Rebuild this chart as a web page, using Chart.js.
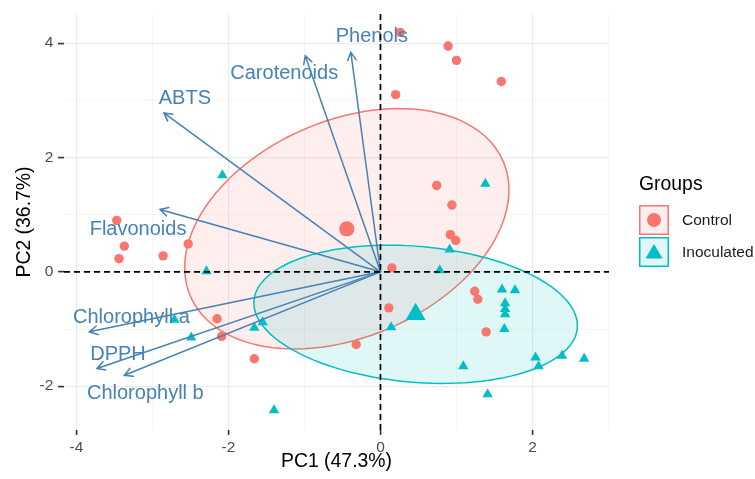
<!DOCTYPE html>
<html>
<head>
<meta charset="utf-8">
<title>PCA biplot</title>
<script src="https://cdn.jsdelivr.net/npm/chart.js@4.4.1/dist/chart.umd.min.js"></script>
<style>
    html, body { margin: 0; padding: 0; background: #ffffff; }
    #biplot { display: block; }
</style>
</head>
<body>
<canvas id="biplot" width="755" height="479"></canvas>
<script>
// Individual scores on PC1 / PC2
const controlPC1 = [-3.47, -3.37, -3.44, -2.86, -2.53, -2.15, -2.09, -1.66, -0.32, 0.11, 0.15, 0.20,
    0.26, 0.74, 0.89, 0.92, 0.94, 0.99, 1.00, 1.24, 1.28, 1.39, 1.59];
const controlPC2 = [0.90, 0.45, 0.23, 0.28, 0.49, -0.82, -1.13, -1.52, -1.27, -0.63, 0.07, 3.10,
    4.19, 1.51, 3.95, 0.65, 1.17, 0.55, 3.70, -0.34, -0.48, -1.05, 3.33];
const inoculatedPC1 = [-2.71, -2.49, -2.29, -2.08, -1.66, -1.55, -1.40, 0.14, 0.78, 0.91, 1.09, 1.38,
    1.41, 1.60, 1.63, 1.64, 1.64, 1.64, 1.77, 2.04, 2.08, 2.39, 2.68];
const inoculatedPC2 = [-0.84, -1.15, 0.01, 1.69, -0.98, -0.88, -2.42, -0.97, 0.03, 0.39, -1.65, 1.54,
    -2.14, -0.31, -1.00, -0.55, -0.65, -0.74, -0.32, -1.50, -1.65, -1.47, -1.52];

// Variable loadings (arrow tips)
const variables = ['Phenols', 'Carotenoids', 'ABTS', 'Flavonoids', 'Chlorophyll a', 'DPPH', 'Chlorophyll b'];
const loadingPC1 = [-0.39, -0.99, -2.85, -2.90, -3.83, -3.73, -3.37];
const loadingPC2 = [3.84, 3.78, 2.78, 1.09, -1.05, -1.69, -1.81];

const groups = ['Control', 'Inoculated'];
const xTickLabels = [-4, -2, 0, 2];
const yTickLabels = [-2, 0, 2, 4];
const axisTitles = ['PC1 (47.3%)', 'PC2 (36.7%)'];
const legendTitle = 'Groups';
const ellipseLevel = 0.5;

// styling
const FONT = '"Liberation Sans", Arial, sans-serif';
const groupColors = ['#F8766D', '#00BFC4'];
const groupFills = ['rgba(248, 118, 109, 0.12)', 'rgba(0, 191, 196, 0.12)'];
const varColor = '#4682B4';
// pixel nudges for the variable names, relative to each arrow tip
const labelNudge = [[21, -16], [-21, 18], [21, -14], [-22, 20], [42, -14], [21, -14], [21, 18]];

Chart.defaults.font.family = FONT;

const toPoints = (xs, ys) => xs.map((x, i) => ({ x: x, y: ys[i] }));
const mean = arr => arr.reduce((a, b) => a + b, 0) / arr.length;

// normal-theory ellipse (like stat_ellipse type = "norm")
function ellipsePath(xs, ys, level) {
    const n = xs.length;
    const mx = mean(xs), my = mean(ys);
    let sxx = 0, syy = 0, sxy = 0;
    for (let i = 0; i < n; i++) {
        sxx += (xs[i] - mx) ** 2;
        syy += (ys[i] - my) ** 2;
        sxy += (xs[i] - mx) * (ys[i] - my);
    }
    sxx /= n - 1; syy /= n - 1; sxy /= n - 1;
    // qf(level, 2, n - 1) has a closed form for 2 numerator df
    const d = n - 1;
    const q = d / 2 * (Math.pow(1 - level, -2 / d) - 1);
    const r = Math.sqrt(2 * q);
    const a = Math.sqrt(sxx);
    const b = sxy / a;
    const c = Math.sqrt(syy - b * b);
    const pts = [];
    for (let k = 0; k <= 120; k++) {
        const t = k / 120 * Math.PI * 2;
        pts.push({ x: mx + r * a * Math.cos(t), y: my + r * (b * Math.cos(t) + c * Math.sin(t)) });
    }
    return pts;
}

const groupPC1 = [controlPC1, inoculatedPC1];
const groupPC2 = [controlPC2, inoculatedPC2];

const ellipsePlugin = {
    id: 'groupEllipses',
    beforeDatasetsDraw(chart) {
        const { ctx, scales: { x, y } } = chart;
        ctx.save();
        groups.forEach((g, gi) => {
            const pts = ellipsePath(groupPC1[gi], groupPC2[gi], ellipseLevel);
            ctx.beginPath();
            pts.forEach((p, k) => {
                const px = x.getPixelForValue(p.x), py = y.getPixelForValue(p.y);
                if (k === 0) ctx.moveTo(px, py); else ctx.lineTo(px, py);
            });
            ctx.closePath();
            ctx.fillStyle = groupFills[gi];
            ctx.fill();
            ctx.strokeStyle = groupColors[gi];
            ctx.lineWidth = 1.5;
            ctx.stroke();
        });
        ctx.restore();
    }
};

const arrowPlugin = {
    id: 'variableArrows',
    afterDatasetsDraw(chart) {
        const { ctx, chartArea, scales: { x, y } } = chart;
        const x0 = x.getPixelForValue(0), y0 = y.getPixelForValue(0);
        ctx.save();
        ctx.strokeStyle = varColor;
        ctx.lineWidth = 1.5;
        ctx.lineCap = 'round';
        variables.forEach((name, i) => {
            const x1 = x.getPixelForValue(loadingPC1[i]);
            const y1 = y.getPixelForValue(loadingPC2[i]);
            const ang = Math.atan2(y1 - y0, x1 - x0);
            ctx.beginPath();
            ctx.moveTo(x0, y0);
            ctx.lineTo(x1, y1);
            // open arrow head
            const len = 9, spread = 0.5;
            ctx.moveTo(x1 + len * Math.cos(ang + Math.PI - spread), y1 + len * Math.sin(ang + Math.PI - spread));
            ctx.lineTo(x1, y1);
            ctx.lineTo(x1 + len * Math.cos(ang + Math.PI + spread), y1 + len * Math.sin(ang + Math.PI + spread));
            ctx.stroke();
        });
        ctx.fillStyle = varColor;
        ctx.font = '20px ' + FONT;
        ctx.textAlign = 'center';
        ctx.textBaseline = 'middle';
        variables.forEach((name, i) => {
            const x1 = x.getPixelForValue(loadingPC1[i]);
            const y1 = y.getPixelForValue(loadingPC2[i]);
            ctx.fillText(name, x1 + labelNudge[i][0], y1 + labelNudge[i][1]);
        });

        // dashed reference lines through the origin
        ctx.strokeStyle = '#000000';
        ctx.lineWidth = 1.7;
        ctx.lineCap = 'butt';
        ctx.setLineDash([6, 4]);
        ctx.beginPath();
        ctx.moveTo(chartArea.left, y0);
        ctx.lineTo(chartArea.right, y0);
        ctx.moveTo(x0, chartArea.top);
        ctx.lineTo(x0, chartArea.bottom);
        ctx.stroke();
        ctx.restore();
    }
};

const legendPlugin = {
    id: 'groupLegend',
    afterDraw(chart) {
        const { ctx } = chart;
        const left = 639, top = 205, box = 30;
        ctx.save();
        ctx.fillStyle = '#000000';
        ctx.font = '19.4px ' + FONT;
        ctx.textAlign = 'left';
        ctx.textBaseline = 'middle';
        ctx.fillText(legendTitle, left, 185);
        groups.forEach((g, gi) => {
            const by = top + gi * (box + 2);
            ctx.fillStyle = groupFills[gi];
            ctx.fillRect(left, by, box, box);
            ctx.strokeStyle = groupColors[gi];
            ctx.lineWidth = 1.5;
            ctx.strokeRect(left + 0.75, by + 0.75, box - 1.5, box - 1.5);
            ctx.fillStyle = groupColors[gi];
            const cx = left + box / 2, cy = by + box / 2;
            ctx.beginPath();
            if (gi === 0) {
                ctx.arc(cx, cy, 7, 0, Math.PI * 2);
            } else {
                ctx.moveTo(cx, cy - 8);
                ctx.lineTo(cx + 8.5, cy + 6.5);
                ctx.lineTo(cx - 8.5, cy + 6.5);
                ctx.closePath();
            }
            ctx.fill();
            ctx.fillStyle = '#1a1a1a';
            ctx.font = '15.5px ' + FONT;
            ctx.fillText(g, 682, cy + 1);
        });
        ctx.restore();
    }
};

function gridColor(ctx) {
    return ctx.tick && Math.abs(ctx.tick.value % 2) === 0 ? '#ebebeb' : '#f2f2f2';
}
function gridWidth(ctx) {
    return ctx.tick && Math.abs(ctx.tick.value % 2) === 0 ? 1.2 : 0.7;
}
function tickMarkColor(ctx) {
    return ctx.tick && Math.abs(ctx.tick.value % 2) === 0 ? '#333333' : 'rgba(0,0,0,0)';
}

const datasets = [
    {
        label: groups[0],
        data: toPoints(controlPC1, controlPC2),
        pointStyle: 'circle',
        pointRadius: 4.7,
        backgroundColor: groupColors[0],
        borderWidth: 0
    },
    {
        label: groups[1],
        data: toPoints(inoculatedPC1, inoculatedPC2),
        pointStyle: 'triangle',
        pointRadius: 6,
        backgroundColor: groupColors[1],
        borderWidth: 0
    },
    {
        label: groups[0] + ' mean',
        data: [{ x: mean(controlPC1), y: mean(controlPC2) }],
        pointStyle: 'circle',
        pointRadius: 7.6,
        backgroundColor: groupColors[0],
        borderWidth: 0
    },
    {
        label: groups[1] + ' mean',
        data: [{ x: mean(inoculatedPC1), y: mean(inoculatedPC2) }],
        pointStyle: 'triangle',
        pointRadius: 11.5,
        backgroundColor: groupColors[1],
        borderWidth: 0
    }
];

new Chart(document.getElementById('biplot'), {
    type: 'scatter',
    data: { datasets: datasets },
    options: {
        responsive: false,
        animation: false,
        events: [],
        devicePixelRatio: 1,
        layout: { padding: { top: 13, right: 146, left: 0, bottom: 0 } },
        plugins: {
            legend: { display: false },
            tooltip: { enabled: false }
        },
        scales: {
            x: {
                type: 'linear',
                min: -4.164,
                max: 3.007,
                afterFit(scale) { scale.height = 49; },
                border: { display: false },
                grid: { color: gridColor, lineWidth: gridWidth, tickColor: tickMarkColor, tickLength: 5, tickWidth: 1.6 },
                ticks: {
                    stepSize: 1,
                    includeBounds: false,
                    autoSkip: false,
                    maxRotation: 0,
                    padding: 3.5,
                    color: '#4d4d4d',
                    font: { size: 15.5 },
                    callback: v => xTickLabels.includes(v) ? String(v) : ''
                },
                title: {
                    display: true,
                    text: axisTitles[0],
                    color: '#000000',
                    font: { size: 19.4 },
                    padding: { top: 0, bottom: 5.5 }
                }
            },
            y: {
                type: 'linear',
                min: -2.767,
                max: 4.511,
                afterFit(scale) { scale.width = 64; },
                border: { display: false },
                grid: { color: gridColor, lineWidth: gridWidth, tickColor: tickMarkColor, tickLength: 6, tickWidth: 1.6 },
                ticks: {
                    stepSize: 1,
                    includeBounds: false,
                    autoSkip: false,
                    padding: 4.7,
                    color: '#4d4d4d',
                    font: { size: 15.5 },
                    callback: v => yTickLabels.includes(v) ? String(v) : ''
                },
                title: {
                    display: true,
                    text: axisTitles[1],
                    color: '#000000',
                    font: { size: 19.4 },
                    padding: { top: 13.4, bottom: 0 }
                }
            }
        }
    },
    plugins: [ellipsePlugin, arrowPlugin, legendPlugin]
});
</script>
</body>
</html>
